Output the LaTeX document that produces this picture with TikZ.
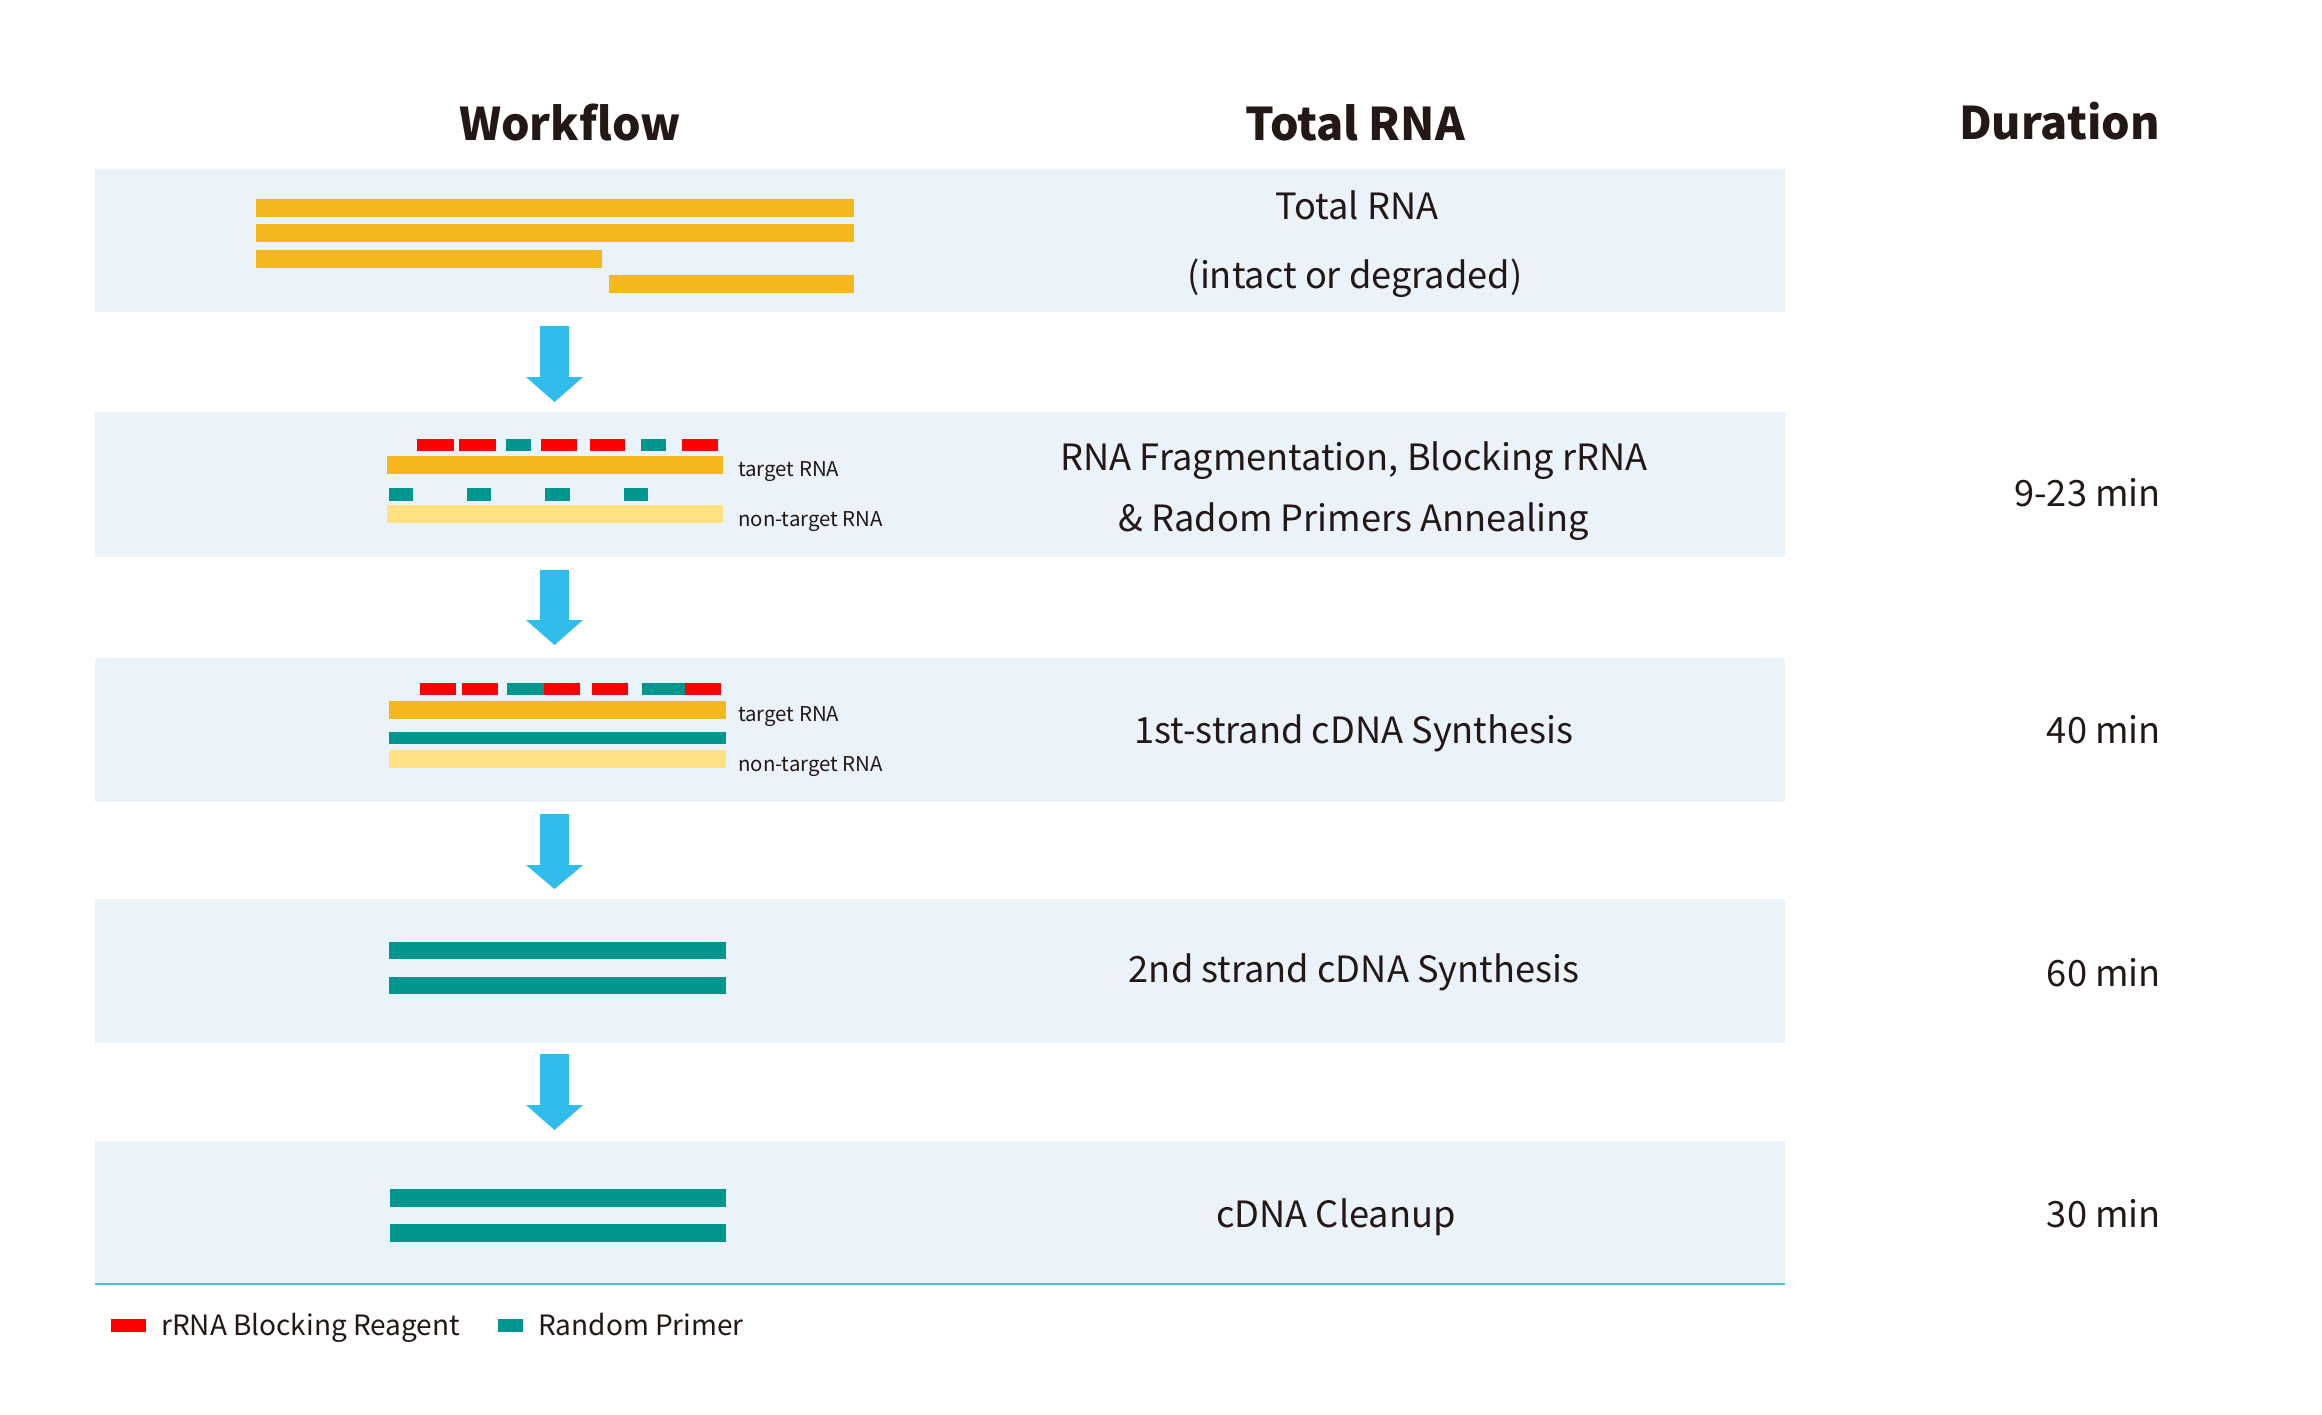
\documentclass[tikz,border=0pt]{standalone}
\usepackage{fontspec}
\setmainfont{Noto Sans CJK SC}
\definecolor{panelbg}{HTML}{EAF2FA}
\definecolor{rnaorange}{HTML}{F4B81C}
\definecolor{rnalight}{HTML}{FFE184}
\definecolor{primerteal}{HTML}{009690}
\definecolor{blockred}{HTML}{FF0000}
\definecolor{arrowblue}{HTML}{31BDEC}
\definecolor{linecol}{HTML}{4DC0E8}
\definecolor{textdark}{HTML}{231815}
\begin{document}
\begin{tikzpicture}[x=1pt,y=-1pt,
  panel/.style={fill=panelbg},
  orange/.style={fill=rnaorange},
  lightrna/.style={fill=rnalight},
  teal/.style={fill=primerteal},
  redb/.style={fill=blockred},
  blockarrow/.style={fill=arrowblue},
  header/.style={font=\fontsize{45}{50}\selectfont\bfseries, text=textdark, inner sep=0pt, anchor=base},
  steptext/.style={font=\fontsize{36.2}{44}\selectfont, text=textdark, inner sep=0pt, anchor=base},
  durtext/.style={font=\fontsize{36.2}{44}\selectfont, text=textdark, inner sep=0pt, anchor=base east},
  smalllabel/.style={font=\fontsize{20.4}{25}\selectfont, text=textdark, inner sep=0pt, anchor=base west},
  legendtext/.style={font=\fontsize{28}{34}\selectfont, text=textdark, inner sep=0pt, anchor=base west}
]
\useasboundingbox[fill=white] (0,0) rectangle (2322,1415);

% panels
\fill[panel] (95,169) rectangle (1785,312);
\fill[panel] (95,412) rectangle (1785,557);
\fill[panel] (95,658) rectangle (1785,802);
\fill[panel] (95,899) rectangle (1785,1043);
\fill[panel] (95,1141) rectangle (1785,1284);
\draw[linecol, line width=2.5pt] (95,1284) -- (1785,1284);

% headers
\node[header] (hwf) at (570,141) {Workflow};
\node[header] (htr) at (1355,141) {Total RNA};
\node[header, anchor=base east] (hdu) at (2160,140) {Duration};

% panel 1 bars
\fill[orange] (256,199) rectangle (854,217);
\fill[orange] (256,224) rectangle (854,242);
\fill[orange] (256,250) rectangle (602,268);
\fill[orange] (609,275) rectangle (854,293);

% panel 2
\foreach \a/\b in {417/454,459/496,541/577,590/625,682/718}
  \fill[redb] (\a,439) rectangle (\b,451);
\foreach \a/\b in {506/531,641/666}
  \fill[teal] (\a,439) rectangle (\b,451);
\fill[orange] (387,456) rectangle (723,474);
\foreach \a/\b in {389/413,467/491,545/570,624/648}
  \fill[teal] (\a,488) rectangle (\b,501);
\fill[lightrna] (387,505) rectangle (723,523);
\node[smalllabel] (t2a) at (738,476) {target RNA};
\node[smalllabel] (t2b) at (738,526) {non-target RNA};

% panel 3
\foreach \a/\b in {420/456,462/498,544/580,592/628,685/721}
  \fill[redb] (\a,683) rectangle (\b,695);
\foreach \a/\b in {507/544,642/685}
  \fill[teal] (\a,683) rectangle (\b,695);
\fill[orange] (389,701) rectangle (726,719);
\fill[teal] (389,732) rectangle (726,744);
\fill[lightrna] (389,750) rectangle (726,768);
\node[smalllabel] (t3a) at (738,721) {target RNA};
\node[smalllabel] (t3b) at (738,771) {non-target RNA};

% panel 4
\fill[teal] (389,942) rectangle (726,959);
\fill[teal] (389,977) rectangle (726,994);

% panel 5
\fill[teal] (390,1189) rectangle (726,1207);
\fill[teal] (390,1224) rectangle (726,1242);

% block arrows
\foreach \t/\b/\p in {326/377/402, 570/620/645, 814/865/889, 1054/1105/1130}
  \fill[blockarrow] (540,\t) -- (569,\t) -- (569,\b) -- (583,\b) -- (554.5,\p) -- (526,\b) -- (540,\b) -- cycle;

% step texts
\node[steptext] (s1a) at (1357,220) {Total RNA};
\node[steptext] (s1b) at (1355,289) {(intact or degraded)};
\node[steptext] (s2a) at (1354,470) {RNA Fragmentation, Blocking rRNA};
\node[steptext] (s2b) at (1354,531) {\& Radom Primers Annealing};
\node[steptext] (s3) at (1354,743) {1st-strand cDNA Synthesis};
\node[steptext] (s4) at (1354,982) {2nd strand cDNA Synthesis};
\node[steptext] (s5) at (1336,1227) {cDNA Cleanup};

% durations
\node[durtext] (d2) at (2161,506) {9-23 min};
\node[durtext] (d3) at (2161,743) {40 min};
\node[durtext] (d4) at (2161,986) {60 min};
\node[durtext] (d5) at (2161,1227) {30 min};

% legend
\fill[redb] (111,1319) rectangle (146,1332);
\node[legendtext] (lg1) at (161,1335) {rRNA Blocking Reagent};
\fill[teal] (498,1319) rectangle (523,1332);
\node[legendtext] (lg2) at (538,1335) {Random Primer};
\end{tikzpicture}
\end{document}
